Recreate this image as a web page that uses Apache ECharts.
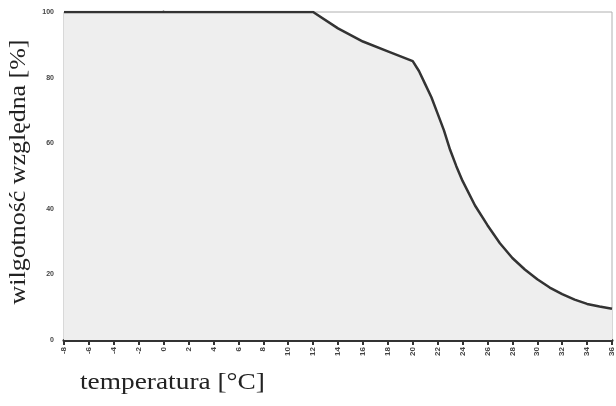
<!DOCTYPE html>
<html>
<head>
<meta charset="utf-8">
<script src="https://cdn.jsdelivr.net/npm/echarts@6/dist/echarts.min.js"></script>
<style>
  html, body { margin: 0; padding: 0; background: #fff; }
  #chart { width: 616px; height: 406px; }
</style>
</head>
<body>
<div id="chart"></div>
<script>
  // temperatura [°C] i wilgotność względna [%]
  var temps = [-8, 12, 14, 16, 18, 20, 20.5, 21, 21.5, 22, 22.5, 23, 23.5, 24, 25, 26, 27, 28, 29, 30, 31, 32, 33, 34, 35, 36]
  var humidity = [100, 100, 95, 91, 88, 85, 82, 78, 74, 69, 64, 58, 53, 48.5, 41, 35, 29.5, 25, 21.5, 18.5, 16, 14, 12.3, 11, 10.2, 9.5]
  var xMin = -8, xMax = 36, xStep = 2
  var yTicks = [0, 20, 40, 60, 80, 100]

  var points = temps.map(function (t, i) { return [t, humidity[i]] })

  var myChart = echarts.init(document.getElementById('chart'))
  var option = {
    backgroundColor: '#fff',
    animation: false,
    grid: {
      left: 64, right: 2, top: 12, bottom: 66,
      show: true,
      borderColor: '#b0b0b0',
      borderWidth: 1,
      backgroundColor: '#fff'
    },
    xAxis: {
      type: 'value',
      min: xMin, max: xMax, interval: xStep,
      axisLine: { show: true, lineStyle: { color: '#333', width: 3 } },
      axisTick: { show: true, length: 5, lineStyle: { color: '#333', width: 2 } },
      axisLabel: { fontSize: 8, color: '#444', fontWeight: 'bold', margin: 7, rotate: 90, showMaxLabel: true },
      splitLine: { show: false }
    },
    yAxis: {
      type: 'value',
      min: 0, max: 100, interval: 20,
      axisLine: { show: true, lineStyle: { color: '#333', width: 3 } },
      axisTick: { show: true, length: 8, lineStyle: { color: '#333', width: 2 } },
      axisLabel: { fontSize: 7, color: '#444', fontWeight: 'bold', margin: 10,
        formatter: function (v) { return yTicks.indexOf(v) >= 0 ? v : '' } },
      splitLine: { show: false }
    },
    graphic: [
      {
        type: 'text', x: 19, y: 172, rotation: Math.PI / 2, scaleX: 1.08,
        style: { text: 'wilgotność względna [%]', font: '24px "Liberation Serif", "DejaVu Serif", serif',
          fill: '#222', align: 'center', verticalAlign: 'middle' }
      },
      {
        type: 'text', x: 80, y: 383, scaleX: 1.14,
        style: { text: 'temperatura [°C]', font: '24px "Liberation Serif", "DejaVu Serif", serif',
          fill: '#222', align: 'left', verticalAlign: 'middle' }
      }
    ],
    series: [{
      type: 'line',
      data: points,
      smooth: false,
      symbol: 'none',
      lineStyle: { color: '#333', width: 2.5 },
      areaStyle: { color: '#eeeeee', opacity: 1 }
    }]
  }
  myChart.setOption(option)
</script>
</body>
</html>
